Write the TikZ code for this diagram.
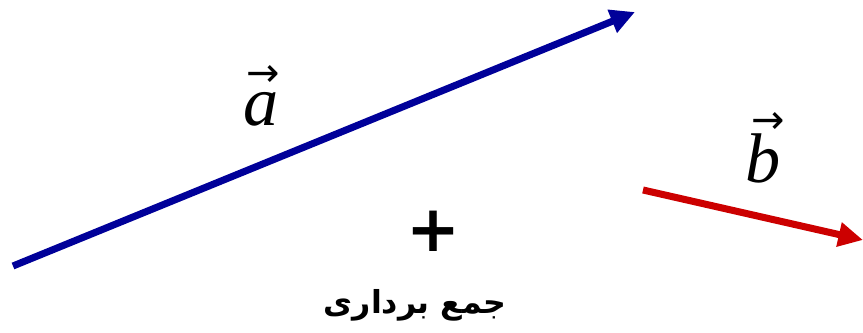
\documentclass[tikz,border=0pt]{standalone}
\usepackage{fontspec}
\setmainfont{Liberation Serif}
\newfontfamily\arabicfont[Script=Arabic]{DejaVu Sans}
\newfontfamily\arrowfont{DejaVu Sans}
\TeXXeTstate=1
\usepackage{xcolor}
\definecolor{vecBlue}{HTML}{000099}
\definecolor{vecRed}{HTML}{CC0000}
\usepackage{tikz}
\usetikzlibrary{arrows.meta}
% letter with an arrow over it: #1 shift, #2 raise, #3 letter
\newcommand{\vecname}[3]{%
    \rlap{\hspace{#1}\raisebox{#2}{\arrowfont\fontsize{34}{34}\selectfont →}}\textit{#3}}
\tikzset{
    % vector arrows
    vector/.style={
        line width=6pt,
        -{Triangle[length=21pt, width=20pt]},
    },
    % vector names
    vector label/.style={
        font=\fontsize{60}{60}\selectfont,
        inner sep=0pt,
        anchor=base west,
    },
}

\begin{document}
\begin{tikzpicture}[x=0.03cm, y=-0.03cm]
    \useasboundingbox (0,0) rectangle (863,332);

    \coordinate (aTail) at (13,266);
    \coordinate (aHead) at (635,12);
    \coordinate (bTail) at (643,190);
    \coordinate (bHead) at (863,240);

    \draw [vector, vecBlue] (aTail) -- (aHead);
    \draw [vector, vecRed] (bTail) -- (bHead);

    \node (aName) [vector label] at (243,125) {\vecname{3pt}{33pt}{a}};
    \node (bName) [vector label] at (745,182) {\vecname{5pt}{41pt}{b}};

    \node (plus) [font=\arabicfont\bfseries\fontsize{55}{55}\selectfont, inner sep=0pt] at (433,231) {+};
    \node (sum) [font=\arabicfont\bfseries\fontsize{27}{27}\selectfont, inner sep=0pt] at (415,305) {\beginR جمع برداری\endR};
\end{tikzpicture}
\end{document}
